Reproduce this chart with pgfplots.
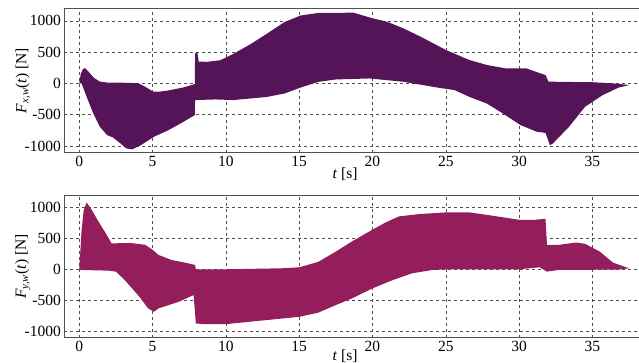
\documentclass[border=0pt]{standalone}
\usepackage{fontspec}
\setmainfont{Liberation Serif}
\usepackage{pgfplots}
\pgfplotsset{compat=1.18}
\usepgfplotslibrary{fillbetween}
\definecolor{fxcol}{RGB}{86,20,88}
\definecolor{fycol}{RGB}{148,30,92}
\definecolor{gridcol}{RGB}{80,80,80}
\pgfplotsset{
  myax/.style={
    scale only axis, width=576.5pt, anchor=south west,
    xmin=-1.02, xmax=38.3, ymin=-1105, ymax=1200,
    xtick={0,5,...,35}, ytick={-1000,-500,0,500,1000},
    grid=major, major grid style={dashed, gridcol, line width=0.6pt},
    axis line style={gridcol, line width=0.7pt},
    tick style={gridcol, line width=0.6pt}, tick align=inside, major tick length=3pt,
    xtick pos=bottom, ytick pos=left,
    /pgf/number format/assume math mode=true,
    /pgf/number format/set thousands separator={},
    tick label style={font=\fontsize{15.5}{17}\selectfont},
    label style={font=\fontsize{15.5}{17}\selectfont},
    xlabel={\textit{t} [s]},
    xlabel style={at={(axis description cs:0.487,0)}, anchor=center, yshift=-21pt},
    ylabel style={at={(axis description cs:-0.072,0.5)}, anchor=center, rotate=0},
  }
}
\begin{document}
\begin{tikzpicture}
% top: F_x
\begin{axis}[myax, at={(64.3pt,210.3pt)}, height=144.4pt,
  ylabel={\textit{F}\textsubscript{\textit{x,w}}(\textit{t}) [N]}]
\addplot[draw=none, name path=ux] coordinates {
(0,0) (0.1,150) (0.25,230) (0.4,245) (0.7,170) (1.0,90) (1.4,30) (2.0,12) (3.0,12) (4.0,5) (4.4,-40) (5.05,-130) (5.5,-130) (6.0,-115) (7.1,-64) (7.88,-10) (7.9,480) (8.05,500) (8.15,350) (8.7,345) (9.6,370) (10.5,470) (11.7,630) (12.8,795) (14.0,980) (15.1,1085) (16.3,1125) (18.7,1130) (20,1040) (21,985) (22.1,880) (23.3,745) (25,535) (26.6,375) (27.8,295) (29.1,240) (30.5,240) (31.4,165) (31.8,135) (32.0,30) (33,25) (35,20) (36.5,0) (37.5,-25)
};
\addplot[draw=none, name path=lx] coordinates {
(0,0) (0.16,0) (0.5,-210) (0.96,-480) (1.4,-690) (1.9,-825) (2.3,-862) (2.8,-955) (3.2,-1035) (3.6,-1053) (4.2,-985) (5.1,-850) (6.0,-755) (6.9,-640) (7.88,-505) (7.9,-265) (9.3,-255) (10.5,-265) (12.8,-215) (14,-160) (15.1,-65) (16.3,25) (17.5,64) (19.8,80) (22.1,27) (24.4,-64) (25.6,-106) (26.6,-213) (27.8,-320) (28.9,-480) (30.1,-665) (31.2,-770) (31.8,-790) (32.1,-985) (32.3,-958) (33.4,-692) (34.5,-372) (35.7,-186) (36.8,-64) (37.5,-27)
};
\addplot[fxcol] fill between[of=ux and lx];
\end{axis}
% bottom: F_y
\begin{axis}[myax, at={(64.3pt,25.3pt)}, height=142.7pt,
  xlabel style={yshift=3pt},
  ylabel={\textit{F}\textsubscript{\textit{y,w}}(\textit{t}) [N]}]
\addplot[draw=none, name path=uy] coordinates {
(0,0) (0.15,600) (0.3,950) (0.5,1080) (0.8,980) (1.3,775) (1.8,585) (2.2,420) (3.6,422) (4.5,395) (5.0,315) (5.4,232) (6.3,150) (7.2,108) (7.9,70) (7.95,0) (10,0) (13.8,16) (15,32) (16.3,120) (17.5,286) (18.6,450) (20,640) (20.9,757) (21.8,854) (23.2,892) (25,919) (26.6,919) (28.2,865) (30,800) (31.1,800) (31.8,816) (31.9,395) (32.7,395) (33.9,432) (34.5,411) (35.5,286) (36.4,108) (37.5,16)
};
\addplot[draw=none, name path=ly] coordinates {
(0,-10) (2.0,-22) (2.5,-38) (3.1,-173) (4.1,-443) (4.7,-632) (5.1,-686) (5.4,-632) (6.8,-524) (7.8,-416) (7.95,-876) (8.6,-886) (10,-886) (12.7,-822) (15,-768) (16.3,-700) (17.5,-578) (18.6,-470) (20,-308) (21.4,-173) (22.7,-65) (24.1,-11) (25,0) (30,0) (31.4,32) (31.9,-38) (32.7,-11) (36.8,-5) (37.5,16)
};
\addplot[fycol] fill between[of=uy and ly];
\end{axis}
\pgfresetboundingbox
\useasboundingbox (0,0) rectangle (639pt,363pt);
\end{tikzpicture}
\end{document}
